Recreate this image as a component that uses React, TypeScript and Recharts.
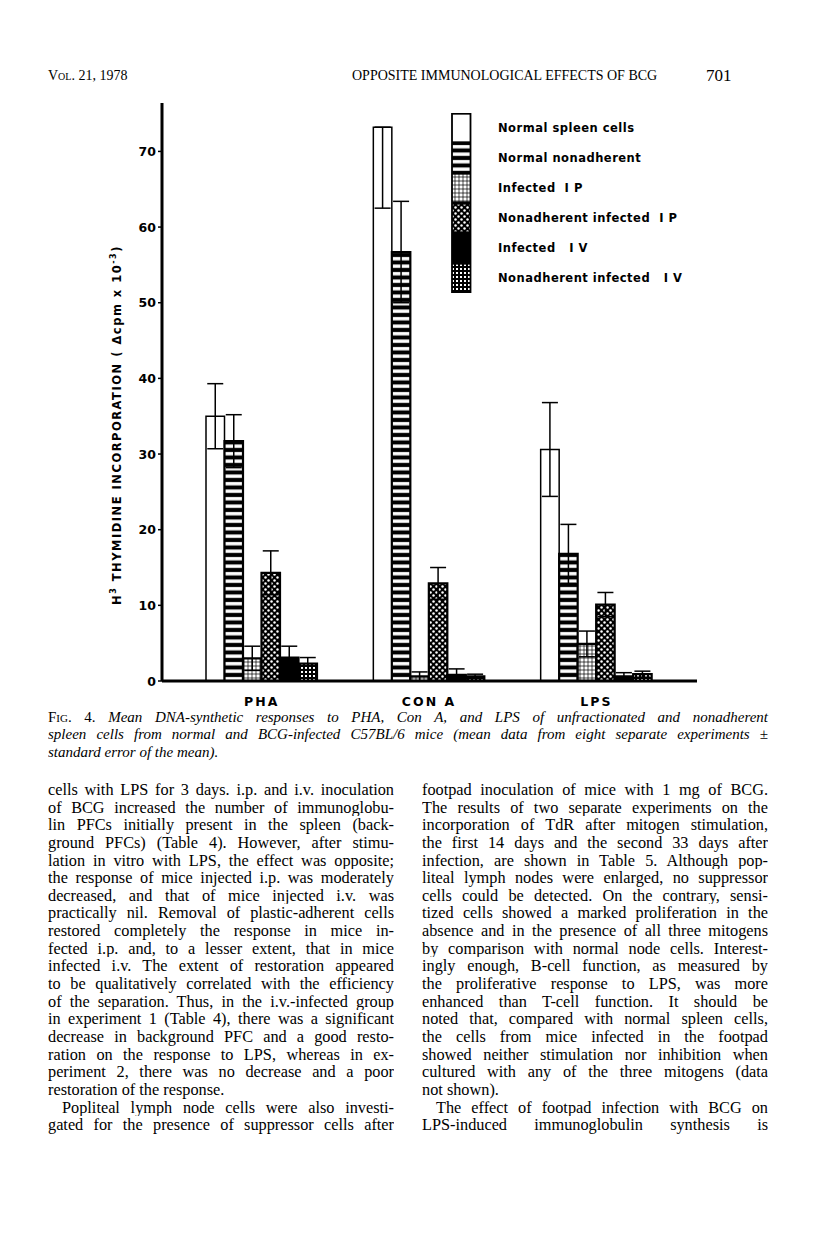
import { Bar, BarChart, ErrorBar, Legend, XAxis, YAxis } from 'recharts';

const categories = ['PHA', 'CON A', 'LPS'];

// mean values (cpm x 10^-3)
const normalSpleen = [35.0, 73.2, 30.6];
const normalNonadherent = [31.7, 56.7, 16.8];
const infectedIP = [3.0, 0.6, 4.9];
const nonadherentIP = [14.3, 12.9, 10.1];
const infectedIV = [3.1, 0.8, 0.6];
const nonadherentIV = [2.3, 0.6, 0.9];

// standard errors; CON A normal spleen only shows the lower half
const normalSpleenErr: (number | number[])[] = [4.3, [10.7, 0], 6.2];
const normalNonadherentErr = [3.5, 6.7, 3.9];
const infectedIPErr = [1.6, 0.6, 1.7];
const nonadherentIPErr = [2.9, 2.1, 1.6];
const infectedIVErr = [1.5, 0.8, 0.5];
const nonadherentIVErr = [0.8, 0.3, 0.4];

const yTicks = [0, 10, 20, 30, 40, 50, 60, 70];

const series = [
  { key: 'ns', name: 'Normal spleen cells', fill: '#fff' },
  { key: 'nn', name: 'Normal nonadherent', fill: 'url(#pStripe)' },
  { key: 'ip', name: 'Infected  I P', fill: 'url(#pGrid)' },
  { key: 'nip', name: 'Nonadherent infected  I P', fill: 'url(#pCross)' },
  { key: 'iv', name: 'Infected   I V', fill: '#000' },
  { key: 'niv', name: 'Nonadherent infected   I V', fill: 'url(#pDark)' },
];

const data = categories.map((name, i) => ({
  name,
  ns: normalSpleen[i],
  nsErr: normalSpleenErr[i],
  nn: normalNonadherent[i],
  nnErr: normalNonadherentErr[i],
  ip: infectedIP[i],
  ipErr: infectedIPErr[i],
  nip: nonadherentIP[i],
  nipErr: nonadherentIPErr[i],
  iv: infectedIV[i],
  ivErr: infectedIVErr[i],
  niv: nonadherentIV[i],
  nivErr: nonadherentIVErr[i],
}));

const leftLines = [
  'cells with LPS for 3 days. i.p. and i.v. inoculation',
  'of BCG increased the number of immunoglobu-',
  'lin PFCs initially present in the spleen (back-',
  'ground PFCs) (Table 4). However, after stimu-',
  'lation in vitro with LPS, the effect was opposite;',
  'the response of mice injected i.p. was moderately',
  'decreased, and that of mice injected i.v. was',
  'practically nil. Removal of plastic-adherent cells',
  'restored completely the response in mice in-',
  'fected i.p. and, to a lesser extent, that in mice',
  'infected i.v. The extent of restoration appeared',
  'to be qualitatively correlated with the efficiency',
  'of the separation. Thus, in the i.v.-infected group',
  'in experiment 1 (Table 4), there was a significant',
  'decrease in background PFC and a good resto-',
  'ration on the response to LPS, whereas in ex-',
  'periment 2, there was no decrease and a poor',
  'restoration of the response.',
  'Popliteal lymph node cells were also investi-',
  'gated for the presence of suppressor cells after',
];

const rightLines = [
  'footpad inoculation of mice with 1 mg of BCG.',
  'The results of two separate experiments on the',
  'incorporation of TdR after mitogen stimulation,',
  'the first 14 days and the second 33 days after',
  'infection, are shown in Table 5. Although pop-',
  'liteal lymph nodes were enlarged, no suppressor',
  'cells could be detected. On the contrary, sensi-',
  'tized cells showed a marked proliferation in the',
  'absence and in the presence of all three mitogens',
  'by comparison with normal node cells. Interest-',
  'ingly enough, B-cell function, as measured by',
  'the proliferative response to LPS, was more',
  'enhanced than T-cell function. It should be',
  'noted that, compared with normal spleen cells,',
  'the cells from mice infected in the footpad',
  'showed neither stimulation nor inhibition when',
  'cultured with any of the three mitogens (data',
  'not shown).',
  'The effect of footpad infection with BCG on',
  'LPS-induced immunoglobulin synthesis is',
];

const captionLines = [
  'Mean DNA-synthetic responses to PHA, Con A, and LPS of unfractionated and nonadherent',
  'spleen cells from normal and BCG-infected C57BL/6 mice (mean data from eight separate experiments \u00b1',
  'standard error of the mean).',
];

const sans = '"DejaVu Sans", sans-serif';
const serif = '"Liberation Serif", "Times New Roman", serif';

function CategoryTick(props: any) {
  const { x, y, payload } = props;
  return (
    <text x={x} y={y + 17} textAnchor="middle" fontFamily={sans} fontWeight={700}
      fontSize={12.5} letterSpacing={2} fill="#000">
      {payload.value}
    </text>
  );
}

function ValueTick(props: any) {
  const { x, y, payload } = props;
  return (
    <text x={x} y={y + 4.5} textAnchor="end" fontFamily={sans} fontWeight={700}
      fontSize={12.5} fill="#000">
      {payload.value}
    </text>
  );
}

function LegendBox() {
  return (
    <div>
      {series.map((s) => (
        <div key={s.key} style={{ display: 'flex', alignItems: 'center', height: 30 }}>
          <svg width={21} height={30} style={{ display: 'block' }}>
            <rect x={1} y={0.75} width={18.5} height={28.5} fill={s.fill} stroke="#000" strokeWidth={1.8} />
          </svg>
          <span style={{
            marginLeft: 26, fontFamily: sans, fontWeight: 700, fontSize: 11.5,
            letterSpacing: 0.5, whiteSpace: 'pre', color: '#000',
          }}>
            {s.name}
          </span>
        </div>
      ))}
    </div>
  );
}

function Line({ text, width, last, indent, italic }: any) {
  return (
    <div style={{
      width, height: 17.65, lineHeight: '17.65px', textAlign: 'justify',
      textAlignLast: last ? 'left' : 'justify', textIndent: indent ? 14 : 0,
      whiteSpace: 'normal', overflow: 'hidden', fontStyle: italic ? 'italic' : 'normal',
    }}>
      {text}
    </div>
  );
}

export default function App() {
  return (
    <div style={{
      position: 'absolute', left: 0, top: 0, width: 816, height: 1249,
      background: '#fff', color: '#000', fontFamily: serif,
    }}>
      {/* running head */}
      <div style={{ position: 'absolute', left: 48, top: 68, fontSize: 14, fontVariant: 'small-caps' }}>
        Vol. 21, 1978
      </div>
      <div style={{ position: 'absolute', left: 352, top: 68, fontSize: 14 }}>
        OPPOSITE IMMUNOLOGICAL EFFECTS OF BCG
      </div>
      <div style={{ position: 'absolute', left: 706, top: 66, fontSize: 17 }}>701</div>

      <div style={{ position: 'absolute', left: 0, top: 90 }}>
        <BarChart width={816} height={620} data={data}
          margin={{ top: 13, right: 119, bottom: 4, left: 112 }}
          barCategoryGap={28} barGap={0}>
          <defs>
            <pattern id="pStripe" width={8} height={7.5} patternUnits="userSpaceOnUse">
              <rect width={8} height={7.5} fill="#000" />
              <rect y={2} width={8} height={3.4} fill="#fff" />
            </pattern>
            <pattern id="pGrid" width={4} height={4} patternUnits="userSpaceOnUse">
              <rect width={4} height={4} fill="#000" />
              <rect x={0.35} y={0.35} width={3.3} height={3.3} fill="#fff" />
            </pattern>
            <pattern id="pCross" width={6} height={6} patternUnits="userSpaceOnUse">
              <rect width={6} height={6} fill="#000" />
              <circle cx={1.5} cy={1.5} r={1.25} fill="#fff" />
              <circle cx={4.5} cy={4.5} r={1.25} fill="#fff" />
            </pattern>
            <pattern id="pDark" width={4} height={4} patternUnits="userSpaceOnUse">
              <rect width={4} height={4} fill="#000" />
              <rect x={1} y={1} width={2} height={2} fill="#fff" />
            </pattern>
          </defs>
          <XAxis dataKey="name" height={25} tickLine={false} tick={<CategoryTick />}
            axisLine={{ stroke: '#000', strokeWidth: 3 }} padding={{ left: 16, right: 17 }} />
          <YAxis type="number" domain={[0, 76.4]} ticks={yTicks} interval={0} allowDataOverflow
            width={50} tickSize={4} tickLine={{ stroke: '#000', strokeWidth: 1.5 }}
            axisLine={{ stroke: '#000', strokeWidth: 3 }} tick={<ValueTick />} />
          <Legend layout="vertical" align="center" verticalAlign="middle" content={<LegendBox />}
            wrapperStyle={{ position: 'absolute', left: 451, top: 23, width: 260, height: 180 }} />
          {series.map((s) => (
            <Bar key={s.key} dataKey={s.key} name={s.name} fill={s.fill} stroke="#000"
              strokeWidth={s.key === 'ns' ? 1.5 : 2.2} barSize={18.5} isAnimationActive={false}>
              <ErrorBar dataKey={`${s.key}Err`} width={8} stroke="#000" strokeWidth={1.5} />
            </Bar>
          ))}
          <text transform="translate(121, 335) rotate(-90)" textAnchor="middle" fontFamily={sans}
            fontWeight={700} fontSize={11.5} letterSpacing={1.5} fill="#000">
            H<tspan dy={-5} fontSize={8}>3</tspan>
            <tspan dy={5}> THYMIDINE  INCORPORATION  ( {'\u0394'}cpm x 10</tspan>
            <tspan dy={-5} fontSize={8}>-3</tspan>
            <tspan dy={5}>)</tspan>
          </text>
        </BarChart>
      </div>

      {/* caption */}
      <div style={{ position: 'absolute', left: 48, top: 709, fontSize: 15 }}>
        <div style={{
          width: 720, height: 17, lineHeight: '17px', textAlign: 'justify', textAlignLast: 'justify',
          fontStyle: 'italic',
        }}>
          <span style={{ fontStyle: 'normal', fontVariant: 'small-caps' }}>Fig. 4.</span> {captionLines[0]}
        </div>
        <Line text={captionLines[1]} width={720} italic />
        <Line text={captionLines[2]} width={720} italic last />
      </div>

      {/* body text */}
      <div style={{ position: 'absolute', left: 48, top: 781, fontSize: 16.3 }}>
        {leftLines.map((t, i) => (
          <Line key={i} text={t} width={346} last={i === 17} indent={i === 18} />
        ))}
      </div>
      <div style={{ position: 'absolute', left: 422, top: 781, fontSize: 16.3 }}>
        {rightLines.map((t, i) => (
          <Line key={i} text={t} width={346} last={i === 17} indent={i === 18} />
        ))}
      </div>
    </div>
  );
}
